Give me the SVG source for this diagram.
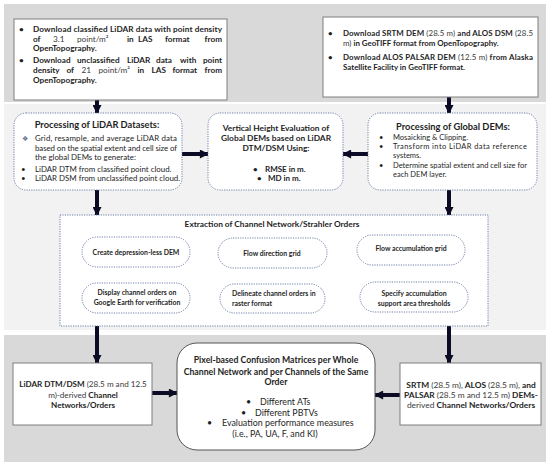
<svg xmlns="http://www.w3.org/2000/svg" width="550" height="466" viewBox="0 0 550 466">
<defs>
<marker id="big" viewBox="0 0 10 10" refX="9" refY="5" markerWidth="10" markerHeight="9" markerUnits="userSpaceOnUse" orient="auto"><path d="M0,0 L10,5 L0,10 z" fill="#0b0b26"/></marker>
<marker id="sm" viewBox="0 0 10 10" refX="9" refY="5" markerWidth="4" markerHeight="4" markerUnits="userSpaceOnUse" orient="auto"><path d="M0,0 L10,5 L0,10 z" fill="#333"/></marker>
</defs>
<style>
text{font-family:Lato,"Open Sans","DejaVu Sans",sans-serif;fill:#1e1e1e}
.b{font-weight:700}
.n{font-weight:400;fill:#3a3a3a}
.box{fill:#fff;stroke:#7f7f7f;stroke-width:1}
.dot{fill:#fff;stroke:#6f7fa5;stroke-width:1;stroke-dasharray:1.2 1.2}
.big{stroke:#0b0b26;stroke-width:4;fill:none;marker-end:url(#big)}
.sm{stroke:#404040;stroke-width:0.8;fill:none;marker-end:url(#sm)}
.c{text-anchor:middle}
.pill{font-weight:700;font-size:6.9px}
</style>
<rect width="550" height="466" fill="#fff"/>
<rect x="4" y="4" width="542" height="98" fill="#d9d9d9"/>
<rect x="4" y="104" width="542" height="226" fill="#f2f2f2"/>
<rect x="4" y="335" width="542" height="127" fill="#d9d9d9"/>

<g id="connectors">
<line class="big" x1="97" y1="100" x2="97" y2="113"/>
<line class="big" x1="449" y1="97" x2="449" y2="113"/>
<line class="big" x1="182" y1="154" x2="208" y2="154"/>
<line class="big" x1="368" y1="154" x2="343" y2="154"/>
<line class="big" x1="97" y1="190" x2="97" y2="215"/>
<line class="big" x1="449" y1="190" x2="449" y2="215"/>
<line class="big" x1="97" y1="326" x2="97" y2="363"/>
<line class="big" x1="449" y1="326" x2="449" y2="363"/>
<line class="big" x1="152" y1="393" x2="177" y2="393"/>
<line class="big" x1="400" y1="395" x2="375" y2="395"/>
<line class="sm" x1="190" y1="252" x2="218" y2="252"/>
<line class="sm" x1="327" y1="251" x2="357" y2="251"/>
<polyline class="sm" points="465,250 477,250 477,297 468,297"/>
<line class="sm" x1="360" y1="297" x2="325" y2="297"/>
<line class="sm" x1="220" y1="298" x2="190" y2="298"/>
</g>

<g id="dl-lidar">
<rect class="box" x="14" y="19" width="213" height="81"/>
<g class="b" font-size="8.2">
<text x="19" y="32">•</text>
<text x="33" y="32" textLength="189" lengthAdjust="spacing">Download classified LiDAR data with point density</text>
<text y="42"><tspan x="33">of</tspan><tspan x="53" class="n">3.1</tspan><tspan x="77" class="n">point/m²</tspan><tspan x="127">in</tspan><tspan x="138">LAS</tspan><tspan x="165">format</tspan><tspan x="222" text-anchor="end">from</tspan></text>
<text x="33" y="51">OpenTopography.</text>
<text x="19" y="63">•</text>
<text y="63"><tspan x="33">Download</tspan><tspan x="77">unclassified</tspan><tspan x="127">LiDAR</tspan><tspan x="156">data</tspan><tspan x="180">with</tspan><tspan x="222" text-anchor="end">point</tspan></text>
<text y="73"><tspan x="33">density</tspan><tspan x="66.5">of</tspan><tspan x="81.5" class="n">21</tspan><tspan x="98.5" class="n">point/m²</tspan><tspan x="137.5">in</tspan><tspan x="151.5">LAS</tspan><tspan x="172.5">format</tspan><tspan x="222" text-anchor="end">from</tspan></text>
<text x="33" y="83">OpenTopography.</text>
</g>
</g>

<g id="dl-global">
<rect class="box" x="323" y="17" width="215" height="80"/>
<g class="b" font-size="7.9">
<text x="328" y="36">•</text>
<text x="343" y="36" textLength="190" lengthAdjust="spacing">Download SRTM DEM <tspan class="n">(28.5 m)</tspan> and ALOS DSM <tspan class="n">(28.5</tspan></text>
<text x="343" y="46"><tspan class="n">m)</tspan> in GeoTIFF format from OpenTopography.</text>
<text x="328" y="60">•</text>
<text x="343" y="60" textLength="190" lengthAdjust="spacing">Download ALOS PALSAR DEM <tspan class="n">(12.5 m)</tspan> from Alaska</text>
<text x="343" y="70">Satellite Facility in GeoTIFF format.</text>
</g>
</g>

<g id="proc-lidar">
<rect class="dot" x="14" y="113" width="168" height="77" rx="12"/>
<text class="b c" x="97" y="128" font-size="9.3">Processing of LiDAR Datasets:</text>
<g class="n" font-size="7.9">
<text x="22" y="141" font-size="7" style="fill:#5a6a8a">❖</text>
<text x="35" y="141" textLength="142" lengthAdjust="spacing">Grid, resample, and average LiDAR data</text>
<text x="35" y="150.5" textLength="142" lengthAdjust="spacing">based on the spatial extent and cell size of</text>
<text x="35" y="160">the global DEMs to generate:</text>
<text x="21" y="172">•</text>
<text x="35" y="172">LiDAR DTM from classified point cloud.</text>
<text x="21" y="181">•</text>
<text x="35" y="181">LiDAR DSM from unclassified point cloud.</text>
</g>
</g>

<g id="vert-eval">
<rect class="dot" x="208" y="113" width="135" height="77" rx="12"/>
<g class="b" font-size="8.4">
<text class="c" x="276" y="131">Vertical Height Evaluation of</text>
<text class="c" x="276" y="141">Global DEMs based on LiDAR</text>
<text class="c" x="276" y="150.5">DTM/DSM Using:</text>
</g>
<g class="b" font-size="8">
<text x="253" y="172">•</text><text x="265" y="172">RMSE in m.</text>
<text x="257" y="181">•</text><text x="268" y="181">MD in m.</text>
</g>
</g>

<g id="proc-global">
<rect class="dot" x="368" y="113" width="169" height="77" rx="12"/>
<text class="b c" x="453" y="130" font-size="9.3">Processing of Global DEMs:</text>
<g class="n" font-size="7.5">
<text x="379" y="139.5">•</text><text x="393" y="139.5">Mosaicking &amp; Clipping.</text>
<text x="379" y="149">•</text><text x="393" y="149" textLength="134" lengthAdjust="spacing">Transform into LiDAR data reference</text>
<text x="393" y="157.5">systems.</text>
<text x="379" y="168">•</text><text x="393" y="168" textLength="134" lengthAdjust="spacing">Determine spatial extent and cell size for</text>
<text x="393" y="176.5">each DEM layer.</text>
</g>
</g>

<g id="extraction">
<rect class="dot" x="60" y="215" width="428" height="111"/>
<text class="b c" x="272" y="227" font-size="8.3">Extraction of Channel Network/Strahler Orders</text>
</g>

<g id="create-dem">
<rect class="dot" x="82" y="237" width="108" height="30" rx="15"/>
<text class="pill c" x="136" y="254.5">Create depression-less DEM</text>
</g>
<g id="flow-dir">
<rect class="dot" x="218" y="238" width="109" height="30" rx="15"/>
<text class="pill c" x="272" y="255.5">Flow direction grid</text>
</g>
<g id="flow-acc">
<rect class="dot" x="357" y="235" width="108" height="30" rx="15"/>
<text class="pill c" x="411" y="250.5">Flow accumulation grid</text>
</g>
<g id="specify">
<rect class="dot" x="360" y="282" width="108" height="30" rx="15"/>
<text class="pill c" x="414" y="296">Specify accumulation</text>
<text class="pill c" x="414" y="306">support area thresholds</text>
</g>
<g id="delineate">
<rect class="dot" x="220" y="284" width="105" height="29" rx="14.5"/>
<text class="pill" x="232" y="296">Delineate channel orders in</text>
<text class="pill" x="232" y="306">raster format</text>
</g>
<g id="display">
<rect class="dot" x="82" y="283" width="108" height="30" rx="15"/>
<text class="pill c" x="137" y="295">Display channel orders on</text>
<text class="pill c" x="137" y="305">Google Earth for verification</text>
</g>

<g id="lidar-networks">
<rect class="box" x="13" y="363" width="139" height="62"/>
<g font-size="8.1" class="b">
<text class="c" x="83" y="387">LiDAR DTM/DSM <tspan class="n">(28.5 m and 12.5</tspan></text>
<text class="c" x="83" y="398"><tspan class="n">m)-derived</tspan> Channel</text>
<text class="c" x="83" y="408">Networks/Orders</text>
</g>
</g>

<g id="confusion">
<rect x="177" y="343" width="198" height="107" rx="20" fill="#fff" stroke="#555" stroke-width="1"/>
<g class="b" font-size="8.7">
<text class="c" x="276" y="363">Pixel-based Confusion Matrices per Whole</text>
<text class="c" x="276" y="375">Channel Network and per Channels of the Same</text>
<text class="c" x="276" y="385">Order</text>
</g>
<g class="n" font-size="8.9">
<text x="246" y="405">•</text><text x="260" y="405">Different ATs</text>
<text x="241" y="415.5">•</text><text x="255" y="415.5">Different PBTVs</text>
<text x="207" y="426">•</text><text x="222" y="426">Evaluation performance measures</text>
<text class="c" x="275" y="437">(i.e., PA, UA, F, and KI)</text>
</g>
</g>

<g id="global-networks">
<rect class="box" x="400" y="363" width="141" height="62"/>
<g font-size="8.4" class="b">
<text class="c" x="471" y="388">SRTM <tspan class="n">(28.5 m),</tspan> ALOS <tspan class="n">(28.5 m),</tspan> and</text>
<text class="c" x="471" y="398">PALSAR <tspan class="n">(28.5 m and 12.5 m)</tspan> DEMs-</text>
<text class="c" x="471" y="408"><tspan class="n">derived</tspan> Channel Networks/Orders</text>
</g>
</g>
</svg>
